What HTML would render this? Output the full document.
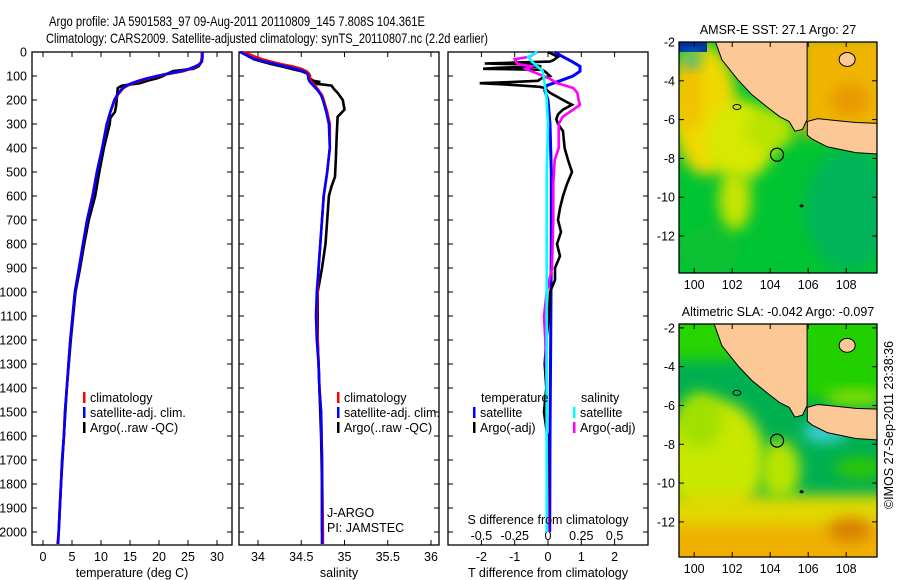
<!DOCTYPE html>
<html><head><meta charset="utf-8"><style>
body{margin:0;background:#fff;}
svg{display:block;font-family:"Liberation Sans",Arial,sans-serif;}
</style></head><body>
<svg id="fig" width="900" height="580" xmlns="http://www.w3.org/2000/svg">
<defs>
<filter id="blur" x="-50%" y="-50%" width="200%" height="200%"><feGaussianBlur stdDeviation="7"/></filter>
<clipPath id="clipTop"><rect x="679" y="42" width="198" height="231"/></clipPath>
<clipPath id="clipBot"><rect x="679" y="324" width="198" height="233"/></clipPath>
</defs>
<text x="49" y="26" font-size="14" textLength="376" lengthAdjust="spacingAndGlyphs">Argo profile: JA 5901583_97 09-Aug-2011 20110809_145 7.808S 104.361E</text>
<text x="46" y="43" font-size="14" textLength="442" lengthAdjust="spacingAndGlyphs">Climatology: CARS2009. Satellite-adjusted climatology: synTS_20110807.nc (2.2d earlier)</text>
<g id="profiles"></g>
<g id="maps"></g>
</svg>
<script>
// ---- data ----
const depthClim = [0,20,40,50,60,70,80,90,100,110,120,130,140,150,175,200,250,300,400,500,600,700,800,900,1000,1100,1200,1300,1400,1500,1600,1700,1800,1900,2000,2050];
const tempClim = [27.4,27.4,27.3,27.0,26.5,25.5,24.2,22,19.9,18.2,16.8,15.5,14.6,13.9,13.0,12.4,11.6,11.0,10.2,9.3,8.5,7.6,6.9,6.2,5.5,5.1,4.7,4.4,4.1,3.8,3.6,3.3,3.1,2.9,2.7,2.5];
const tempSat = [27.5,27.5,27.4,27.0,26.3,25.2,23.8,21.5,19.6,17.9,16.5,15.3,14.4,13.7,12.9,12.3,11.6,11.0,10.2,9.3,8.6,7.6,6.9,6.2,5.5,5.1,4.7,4.4,4.1,3.8,3.6,3.3,3.1,2.9,2.7,2.6];
const depthArgoT = [0,20,40,50,60,70,80,90,100,110,120,130,140,150,175,200,225,250,275,300,350,400,500,600,700,800,900,1000,1200,1400,1600,1800,2000];
const tempArgo = [27.4,27.4,27.3,27.1,26.8,25.9,22.4,21.5,20.7,19.6,18.0,16.7,13.6,12.9,12.8,12.7,12.6,12.4,11.6,11.5,11.0,10.5,9.7,9.0,7.9,7.1,6.4,5.6,4.8,4.1,3.6,3.1,2.7];
const depthSal = [0,10,20,30,40,50,60,70,80,90,100,110,125,140,160,180,200,250,300,400,500,600,700,800,900,1000,1100,1200,1300,1400,1500,1700,2000,2050];
const salSat = [33.79,33.85,33.9,33.97,34.08,34.2,34.32,34.43,34.52,34.57,34.58,34.58,34.6,34.64,34.69,34.73,34.75,34.79,34.82,34.83,34.8,34.76,34.74,34.72,34.70,34.68,34.67,34.68,34.70,34.71,34.73,34.74,34.74,34.74];
const salClim = [33.82,33.9,33.97,34.05,34.15,34.26,34.4,34.5,34.56,34.59,34.6,34.6,34.62,34.66,34.7,34.74,34.76,34.8,34.83,34.83,34.8,34.76,34.74,34.72,34.70,34.69,34.68,34.69,34.70,34.71,34.73,34.74,34.75,34.75];
const depthArgoS = [0,10,20,30,40,50,60,70,80,90,100,110,120,125,130,140,155,170,200,240,270,350,450,520,560,600,700,800,900,1000,1200,1400,1600,1800,2000];
const salArgo = [33.8,33.85,33.9,33.95,34.05,34.15,34.27,34.38,34.5,34.57,34.6,34.6,34.64,34.72,34.62,34.85,34.88,34.92,34.98,35.0,34.92,34.91,34.9,34.89,34.85,34.82,34.8,34.78,34.74,34.69,34.69,34.71,34.73,34.74,34.74];
const depthTdSat = [0,20,40,60,80,100,120,140,160,200,300,500,800,1200,1600,2000];
const tDiffSat = [0.2,0.45,0.72,0.96,0.96,0.75,0.36,-0.04,-0.1,0,0.06,0.1,0.1,0.08,0.06,0.05];
const depthTdArgo = [0,20,35,40,44,48,52,60,66,70,72,74,80,100,110,120,126,130,133,138,145,150,170,200,220,240,260,280,300,330,400,450,500,550,600,650,700,750,800,850,900,950,1000,1100,1200,1300,1400,1500,1600,1800,2000];
const tDiffArgo = [0,0.3,0.15,0.05,-1.0,-1.9,-0.5,-0.2,-1.5,-1.95,-1.0,-0.2,-0.1,0.06,-0.2,-0.3,-1.2,-2.05,-1.6,-1.0,-0.25,-0.1,0.06,0.45,0.72,0.45,0.3,0.25,0.3,0.45,0.5,0.6,0.72,0.57,0.45,0.36,0.3,0.39,0.27,0.36,0.21,0.21,0.06,0.03,-0.05,-0.1,-0.05,-0.12,-0.02,0,0];
const depthSdArgo = [0,20,30,50,60,70,90,110,130,150,170,200,220,240,270,300,400,450,550,700,900,1000,1100,1200,1400,1600,2000];
const sDiffArgo = [-0.08,-0.14,-0.25,-0.23,-0.12,-0.17,-0.08,0.01,0.07,0.19,0.22,0.23,0.24,0.19,0.11,0.08,0.08,0.05,0.04,0.04,0.03,-0.01,-0.03,-0.02,-0.01,-0.01,0];
const depthSdSat = [0,20,40,60,80,150,200,300,500,1000,1500,2000];
const sDiffSat = [-0.08,-0.15,-0.12,-0.08,-0.04,-0.02,-0.01,0,-0.01,-0.01,-0.01,-0.01];
const depthTicks = [0,100,200,300,400,500,600,700,800,900,1000,1100,1200,1300,1400,1500,1600,1700,1800,1900,2000];
const tempTicks = [0,5,10,15,20,25,30];
const salTicks = [34,34.5,35,35.5,36];
const salTickLabels = ["34","34.5","35","35.5","36"];
const tDiffTicks = [-2,-1,0,1,2];
const sDiffTicks = [-0.5,-0.25,0,0.25,0.5];
const sDiffTickLabels = ["-0.5","-0.25","0","0.25","0.5"];
const latTicks = [-2,-4,-6,-8,-10,-12];
const lonTicks = [100,102,104,106,108];

const NS="http://www.w3.org/2000/svg";
function mk(tag, attrs, parent, text){
  const e=document.createElementNS(NS,tag);
  for(const k in attrs) e.setAttribute(k,attrs[k]);
  if(text!==undefined) e.textContent=text;
  parent.appendChild(e); return e;
}
const prof=document.getElementById('profiles');
const TOP=52, BOT=545;
const yD = d => TOP + d*0.24;
function panel(x0,x1,name,xf,leftLabels){
  const g=mk('g',{},prof);
  
  
  const r=mk('rect',{x:x0,y:TOP,width:x1-x0,height:BOT-TOP,fill:'none',stroke:'#000','stroke-width':1.3},g);
  
  
  depthTicks.forEach(d=>{
    const y=yD(d);
    mk('line',{x1:x0,x2:x0+5,y1:y,y2:y,stroke:'#000'},g);
    mk('line',{x1:x1-5,x2:x1,y1:y,y2:y,stroke:'#000'},g);
    if(leftLabels){
      const t=mk('text',{x:x0-5,y:y+4.5,'font-size':12.5,'text-anchor':'end'},g,String(d));
      
      
    }
  });
  return g;
}
function line(g,xs,ds,xf,color,name,w){
  const pts=xs.map((v,i)=>xf(v).toFixed(1)+','+yD(ds[i]).toFixed(1)).join(' ');
  const p=mk('polyline',{points:pts,fill:'none',stroke:color,'stroke-width':w||2.6,'stroke-linejoin':'miter'},g);
  
  
}
function xticks(g,ticks,labels,xf,y){
  ticks.forEach((v,i)=>{
    const x=xf(v);
    mk('line',{x1:x,x2:x,y1:BOT,y2:BOT-5,stroke:'#000'},g);
    mk('line',{x1:x,x2:x,y1:TOP,y2:TOP+5,stroke:'#000'},g);
    const t=mk('text',{x:x,y:y,'font-size':12.5,'text-anchor':'middle'},g,labels[i]);
    
    
  });
}
function legend(g,x,y,color,label){
  const b=mk('rect',{x:x,y:y-10,width:2.5,height:11,fill:color},g);
  
  
  const t=mk('text',{x:x+7,y:y,'font-size':12.5},g,label);
  
  
}
function label(g,x,y,txt,name,anchor){
  const t=mk('text',{x:x,y:y,'font-size':12.5,'text-anchor':anchor||'middle'},g,txt);
  
  
}
// temperature panel
const xT = v => 43 + v*5.8;
let g=panel(32,232,'temperature-panel',xT,true);
xticks(g,tempTicks,tempTicks.map(String),xT,561);
line(g,tempArgo,depthArgoT,xT,'#000','temp-argo-line');
line(g,tempClim,depthClim,xT,'#f00','temp-climatology-line');
line(g,tempSat,depthClim,xT,'#00f','temp-satellite-line');
legend(g,83,402,'#f00','climatology');
legend(g,83,417,'#00f','satellite-adj. clim.');
legend(g,83,432,'#000','Argo(..raw -QC)');
label(g,132,577,'temperature (deg C)','x-axis-title-temperature');
// salinity panel
const xS = v => 258 + (v-34)*86.5;
g=panel(239,439,'salinity-panel',xS,false);
xticks(g,salTicks,salTickLabels,xS,561);
line(g,salArgo,depthArgoS,xS,'#000','salinity-argo-line');
line(g,salClim,depthSal,xS,'#f00','salinity-climatology-line');
line(g,salSat,depthSal,xS,'#00f','salinity-satellite-line');
legend(g,337,402,'#f00','climatology');
legend(g,337,417,'#00f','satellite-adj. clim.');
legend(g,337,432,'#000','Argo(..raw -QC)');
label(g,327,517,'J-ARGO','float-program-label','start');
label(g,327,532,'PI: JAMSTEC','pi-label','start');
label(g,339,577,'salinity','x-axis-title-salinity');
// difference panel
const xTd = v => 548 + v*33.3;
const xSd = v => 548 + v*133.2;
g=panel(448,648,'difference-panel',xTd,false);
xticks(g,tDiffTicks,tDiffTicks.map(String),xTd,561);
sDiffTicks.forEach((v,i)=>{
  const t=mk('text',{x:xSd(v),y:540,'font-size':12.5,'text-anchor':'middle'},g,sDiffTickLabels[i]);
  
  
});
line(g,tDiffSat,depthTdSat,xTd,'#00f','temp-diff-satellite-line',3);
line(g,tDiffArgo,depthTdArgo,xTd,'#000','temp-diff-argo-line',2.6);
line(g,sDiffArgo,depthSdArgo,xSd,'#f0f','sal-diff-argo-line',2.6);
line(g,sDiffSat,depthSdSat,xSd,'#0ff','sal-diff-satellite-line',2.6);
label(g,481,402,'temperature','legend-title-temperature','start');
label(g,581,402,'salinity','legend-title-salinity','start');
legend(g,473,417,'#00f','satellite');
legend(g,473,432,'#000','Argo(-adj)');
legend(g,573,417,'#0ff','satellite');
legend(g,573,432,'#f0f','Argo(-adj)');
label(g,548,524,'S difference from climatology','s-diff-axis-title');
label(g,548,577,'T difference from climatology','t-diff-axis-title');

// ---- maps ----
const maps=document.getElementById('maps');
const sumatra=[[100.94,-1.5],[101.46,-2.92],[102.3,-3.95],[103.04,-4.72],[103.88,-5.38],[104.5,-5.85],[105.0,-6.1],[105.3,-6.6],[105.7,-6.5],[105.94,-6.0],[105.94,-1.5]];
const java=[[105.95,-6.1],[106.5,-5.95],[107.5,-6.05],[108.5,-6.15],[110,-6.2],[110,-7.8],[108.5,-7.7],[107,-7.4],[106.2,-7.0],[105.95,-6.8]];
function drawMap(y0,y1,clip,name,title,blobs,topLat){
  const mg=mk('g',{},maps);
  
  
  const X = lon => 679 + (lon-99.2)*19;
  const Y = lat => y0 + (topLat-lat)*19.4;
  const cg=mk('g',{'clip-path':'url(#'+clip+')'},mg);
  blobs.forEach(b=>{
    if(b[0]==='r') mk('rect',{x:b[1],y:b[2],width:b[3],height:b[4],fill:b[5],filter:b[6]?'url(#blur)':''},cg);
    else mk('ellipse',{cx:b[1],cy:b[2],rx:b[3],ry:b[4],fill:b[5],filter:'url(#blur)'},cg);
  });
  [sumatra,java].forEach((poly,i)=>{
    const p=mk('polygon',{points:poly.map(q=>X(q[0]).toFixed(1)+','+Y(q[1]).toFixed(1)).join(' '),fill:'#fcc896',stroke:'#000','stroke-width':1},cg);
    
    
  });
  mk('ellipse',{cx:X(108.05),cy:Y(-2.9),rx:8,ry:7,fill:'#fcc896',stroke:'#000'},cg);
  mk('ellipse',{cx:X(102.25),cy:Y(-5.35),rx:4,ry:2.5,fill:'none',stroke:'#000'},cg);
  mk('ellipse',{cx:X(105.65),cy:Y(-10.45),rx:2,ry:1.5,fill:'#000'},cg);
  const ac=mk('circle',{cx:X(104.36),cy:Y(-7.81),r:6.5,fill:'none',stroke:'#000','stroke-width':1.2},cg);
  
  
  mk('rect',{x:679,y:y0,width:198,height:y1-y0,fill:'none',stroke:'#000','stroke-width':1.3},mg);
  latTicks.forEach(l=>{
    const y=Y(l);
    mk('line',{x1:679,x2:684,y1:y,y2:y,stroke:'#000'},mg);
    mk('line',{x1:872,x2:877,y1:y,y2:y,stroke:'#000'},mg);
    const t=mk('text',{x:675,y:y+4.5,'font-size':12.5,'text-anchor':'end'},mg,String(l));
    
    
  });
  lonTicks.forEach(l=>{
    const x=X(l);
    mk('line',{x1:x,x2:x,y1:y1,y2:y1-5,stroke:'#000'},mg);
    mk('line',{x1:x,x2:x,y1:y0,y2:y0+5,stroke:'#000'},mg);
    const t=mk('text',{x:x,y:y1+16,'font-size':12.5,'text-anchor':'middle'},mg,String(l));
    
    
  });
  const tt=mk('text',{x:778,y:y0-8,'font-size':12.5,'text-anchor':'middle'},mg,title);
  
  
}
drawMap(42,273,'clipTop','sst-map','AMSR-E SST: 27.1  Argo: 27',[
  ['r',679,42,198,231,'#00c432',false],
  ['e',850,210,45,60,'#00b45a'],
  ['e',710,250,30,25,'#10c030'],
  ['e',705,110,32,65,'#f0d800'],
  ['e',740,140,35,40,'#d8e800'],
  ['e',735,200,16,30,'#c8e400'],
  ['e',770,130,25,20,'#b8e400'],
  ['e',690,90,12,40,'#f0c000'],
  ['r',800,35,90,100,'#f0b400',true],
  ['e',850,100,20,15,'#e89800'],
  ['r',679,42,28,10,'#0030a0',false],
  ['e',692,60,9,7,'#00b8c0']
],-2);
drawMap(324,557,'clipBot','sla-map','Altimetric SLA: -0.042  Argo: -0.097',[
  ['r',679,324,198,233,'#00b050',false],
  ['r',660,300,240,60,'#28d400',true],
  ['r',800,300,90,100,'#20d000',true],
  ['e',715,460,50,60,'#c8e800'],
  ['e',700,420,22,28,'#a0e000'],
  ['r',660,495,240,80,'#e0d800',true],
  ['e',780,470,20,30,'#b8e400'],
  ['r',660,525,240,45,'#f0b000',true],
  ['e',850,530,22,12,'#d88000'],
  ['e',825,432,22,10,'#40d0e0'],
  ['e',860,468,25,10,'#30c800'],
  ['e',855,398,30,8,'#90e000']
],-1.8);
const cp=mk('text',{x:0,y:0,'font-size':12.5,'text-anchor':'middle',transform:'translate(893,425) rotate(-90)'},maps,'©IMOS 27-Sep-2011 23:38:36');


</script>
</body></html>
